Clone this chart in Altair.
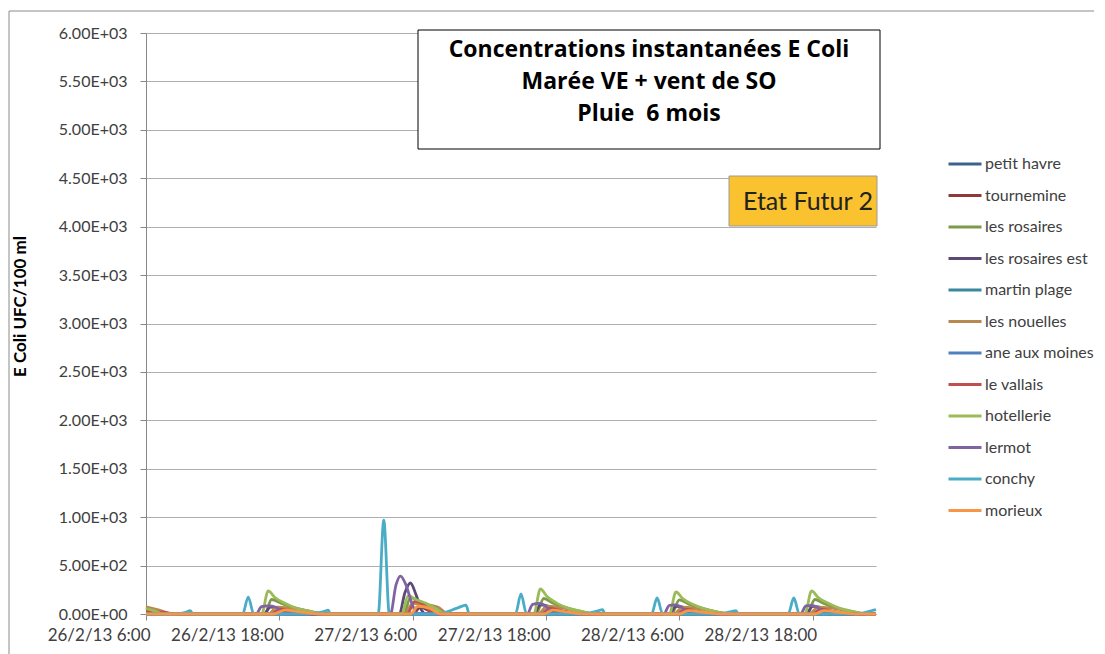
import altair as alt
import pandas as pd

FONT = "Lato"
TITLE_FONT = "Open Sans"
START = pd.Timestamp("2013-02-26 06:00:00")

SERIES = ["petit havre", "tournemine", "les rosaires", "les rosaires est",
          "martin plage", "les nouelles", "ane aux moines", "le vallais",
          "hotellerie", "lermot", "conchy", "morieux"]
COLORS = ["#3B6390", "#8E3A3A", "#7D9A48", "#5B4A78", "#3A87A0", "#B8894F",
          "#4F81BD", "#C0504D", "#9BBB59", "#8064A2", "#4BACC6", "#F79646"]

Y_TICKS = [0, 500, 1000, 1500, 2000, 2500, 3000, 3500, 4000, 4500, 5000, 5500, 6000]
TITLE_LINES = ["Concentrations instantanées E Coli", "Marée VE + vent de SO", "Pluie\u00a0 6 mois"]
BADGE_TEXT = "Etat Futur 2"
Y_TITLE = "E Coli UFC/100 ml"

# (hours after 26/2/13 6:00, E. coli UFC/100 ml)
petit_havre = [(0, 0), (65.7, 0)]
tournemine = [(0, 20), (1.5, 10), (3, 0), (11.8, 0), (12.6, 35), (13.8, 15), (15, 0),
              (24.0, 0), (24.7, 70), (25.5, 30), (26.3, 0), (36.4, 0), (37.1, 35),
              (38.3, 15), (39.5, 0), (48.6, 0), (49.3, 30), (50.5, 12), (51.7, 0),
              (60.8, 0), (61.5, 30), (62.7, 12), (63.9, 0), (65.7, 0)]
les_rosaires = [(0, 65), (1, 30), (2, 0), (10.7, 0), (11.3, 150), (12.2, 110), (13.5, 60),
                (15, 20), (16.2, 0), (23.2, 0), (23.8, 170), (24.6, 130), (25.6, 80),
                (26.6, 30), (27.5, 0), (35.1, 0), (35.8, 160), (36.6, 115), (37.8, 65),
                (39.3, 20), (40.5, 0), (47.3, 0), (48.0, 145), (48.8, 105), (50, 60),
                (51.5, 18), (52.7, 0), (59.5, 0), (60.2, 150), (61.0, 110), (62.2, 60),
                (63.7, 20), (64.9, 0), (65.7, 0)]
les_rosaires_est = [(0, 0), (10.6, 0), (11.2, 70), (11.8, 65), (12.6, 0), (22.8, 0),
                    (23.3, 220), (23.8, 320), (24.3, 200), (24.8, 40), (25.2, 0),
                    (34.9, 0), (35.5, 95), (36.1, 85), (36.9, 0), (47.1, 0), (47.7, 80),
                    (48.3, 72), (49.1, 0), (59.4, 0), (60.0, 78), (60.6, 70), (61.4, 0),
                    (65.7, 0)]
martin_plage = [(0, 0), (65.7, 0)]
les_nouelles = [(0, 75), (1.2, 40), (2.5, 0), (11.0, 0), (11.8, 70), (13, 60), (14.5, 35),
                (16, 0), (23.3, 0), (24.0, 110), (25, 100), (26.3, 70), (27.2, 0),
                (35.3, 0), (36.1, 80), (37.3, 65), (38.8, 35), (40.3, 0), (47.5, 0),
                (48.3, 70), (49.5, 58), (51, 30), (52.5, 0), (59.7, 0), (60.5, 72),
                (61.7, 60), (63.2, 32), (64.7, 0), (65.7, 0)]
ane_aux_moines = [(0, 0), (65.7, 0)]
le_vallais = [(0, 30), (1.5, 18), (3.0, 0), (11.3, 0), (12.0, 50), (13.0, 30), (14.2, 0),
              (23.5, 0), (24.2, 130), (24.8, 110), (25.5, 40), (26.0, 0), (35.6, 0),
              (36.3, 60), (37.3, 35), (38.5, 0), (47.8, 0), (48.5, 50), (49.5, 30),
              (50.7, 0), (60.0, 0), (60.7, 50), (61.7, 30), (62.9, 0), (65.7, 0)]
hotellerie = [(0, 55), (0.8, 30), (1.6, 0), (10.4, 0), (11.0, 238), (11.6, 170), (12.5, 110),
              (13.5, 60), (15.0, 20), (16.0, 0), (23.0, 0), (23.6, 190), (24.3, 150),
              (25.2, 110), (26.0, 60), (27.0, 0), (34.9, 0), (35.5, 258), (36.1, 180),
              (37.0, 110), (38.0, 60), (39.5, 20), (40.5, 0), (47.1, 0), (47.7, 227),
              (48.3, 160), (49.2, 100), (50.2, 55), (51.7, 15), (52.7, 0), (59.3, 0),
              (59.9, 238), (60.5, 170), (61.4, 110), (62.4, 60), (63.9, 20), (64.9, 0),
              (65.7, 0)]
lermot = [(0, 0), (9.9, 0), (10.4, 75), (11.0, 83), (11.7, 70), (12.5, 0), (22.0, 0),
          (22.5, 300), (22.9, 392), (23.4, 300), (23.9, 120), (24.4, 0), (34.3, 0),
          (34.8, 100), (35.4, 110), (36.0, 80), (36.6, 0), (46.6, 0), (47.1, 90),
          (47.6, 95), (48.2, 70), (48.8, 0), (58.9, 0), (59.4, 85), (59.9, 90),
          (60.5, 65), (61.1, 0), (65.7, 0)]
conchy = [(0, 0), (2.5, 0), (3.5, 15), (4.0, 35), (4.2, 0), (8.7, 0), (9.2, 175), (9.7, 0),
          (14.5, 0), (16.0, 25), (16.4, 40), (16.6, 0), (20.9, 0), (21.4, 970), (21.9, 0),
          (26.2, 0), (28.0, 60), (28.8, 92), (29.1, 0), (33.25, 0), (33.75, 207),
          (34.25, 0), (39.0, 0), (40.6, 30), (41.1, 45), (41.3, 0), (45.5, 0), (46.0, 165),
          (46.5, 0), (51.5, 0), (52.7, 25), (53.1, 35), (53.3, 0), (57.8, 0), (58.3, 165),
          (58.8, 0), (63.8, 0), (65.2, 30), (65.7, 45)]
morieux = [(0, 0), (11.5, 0), (12.5, 40), (14, 20), (15.5, 0), (23.8, 0), (24.5, 80),
           (25.5, 60), (26.5, 0), (35.8, 0), (36.6, 40), (38, 20), (39.5, 0), (48, 0),
           (48.8, 35), (50.2, 18), (51.7, 0), (60.2, 0), (61, 35), (62.4, 18), (63.9, 0),
           (65.7, 0)]

SERIES_POINTS = [petit_havre, tournemine, les_rosaires, les_rosaires_est, martin_plage,
                 les_nouelles, ane_aux_moines, le_vallais, hotellerie, lermot, conchy, morieux]

rows = []
for name, pts in zip(SERIES, SERIES_POINTS):
    for h, v in pts:
        t = START + pd.Timedelta(hours=h)
        rows.append({"series": name, "time": t.strftime("%Y-%m-%dT%H:%M:%S"), "value": v})
df = pd.DataFrame(rows)

X_TICKS = [alt.DateTime(year=2013, month=2, date=d, hours=hh)
           for d, hh in [(26, 6), (26, 18), (27, 6), (27, 18), (28, 6), (28, 18)]]

y_label_expr = ("datum.value == 0 ? '0.00E+00' : (datum.value < 1000 ? "
                "format(datum.value / 100, '.2f') + 'E+02' : "
                "format(datum.value / 1000, '.2f') + 'E+03')")

lines = alt.Chart(df).mark_line(strokeWidth=2.8, interpolate="monotone").encode(
    x=alt.X("time:T",
            scale=alt.Scale(domain=[alt.DateTime(year=2013, month=2, date=26, hours=6),
                                    alt.DateTime(year=2013, month=2, date=28, hours=23, minutes=42)],
                            nice=False),
            axis=alt.Axis(values=X_TICKS, format="%-d/%-m/%y %-H:%M", labelAlign="right",
                          labelFont=FONT, labelFontSize=17, labelColor="#404040",
                          labelPadding=7, labelOffset=4, tickSize=6, tickColor="#888888",
                          domainColor="#888888", grid=False, title=None)),
    y=alt.Y("value:Q",
            scale=alt.Scale(domain=[0, 6000], nice=False),
            axis=alt.Axis(values=Y_TICKS, labelExpr=y_label_expr, labelFont=FONT,
                          labelFontSize=16, labelColor="#404040", labelPadding=13,
                          tickSize=6, tickColor="#888888", domainColor="#888888",
                          gridColor="#AFAFAF", title=Y_TITLE, titleFont=FONT,
                          titleFontSize=17, titleFontWeight="bold", titleColor="#000000",
                          titleX=-117, titleY=273)),
    color=alt.Color("series:N",
                    scale=alt.Scale(domain=SERIES, range=COLORS),
                    legend=alt.Legend(title=None, orient="none", legendX=801, legendY=113,
                                      symbolType="stroke", symbolSize=1089,
                                      symbolStrokeWidth=3, labelFont=FONT,
                                      labelFontSize=16, labelColor="#404040",
                                      rowPadding=5.5, labelOffset=2, labelLimit=0)),
    order=alt.Order("time:T"),
)

one = pd.DataFrame({"k": [0]})

frame_top = alt.Chart(one).mark_rule(color="#8A8A8A", strokeWidth=1).encode(
    x=alt.value(-137), x2=alt.value(948), y=alt.value(-22))
frame_left = alt.Chart(one).mark_rule(color="#8A8A8A", strokeWidth=1).encode(
    x=alt.value(-137), y=alt.value(-22), y2=alt.value(625))

title_box = alt.Chart(one).mark_rect(fill="white", stroke="#000000", strokeWidth=1).encode(
    x=alt.value(272), x2=alt.value(734), y=alt.value(-3), y2=alt.value(116))
title_layers = [
    alt.Chart(one).mark_text(text=line, font=TITLE_FONT, fontSize=23, fontWeight="bold",
                             color="#000000", align="center", baseline="alphabetic").encode(
        x=alt.value(503), y=alt.value(yy))
    for line, yy in zip(TITLE_LINES, [24, 56, 88])
]

badge_box = alt.Chart(one).mark_rect(fill="#F9C22E", stroke="#9A9A9A", strokeWidth=1).encode(
    x=alt.value(583), x2=alt.value(731), y=alt.value(143), y2=alt.value(193))
badge_text = alt.Chart(one).mark_text(text=BADGE_TEXT, font=FONT, fontSize=25,
                                      color="#222222", align="right", baseline="middle").encode(
    x=alt.value(727), y=alt.value(169))

chart = alt.layer(frame_top, frame_left, lines, title_box, *title_layers, badge_box,
                  badge_text).properties(
    width=730, height=581,
    padding={"left": 0, "top": 2, "right": 0, "bottom": 0},
    background="white",
).configure_view(stroke=None)

chart.save("out.html", embed_options={"renderer": "svg", "actions": False})
